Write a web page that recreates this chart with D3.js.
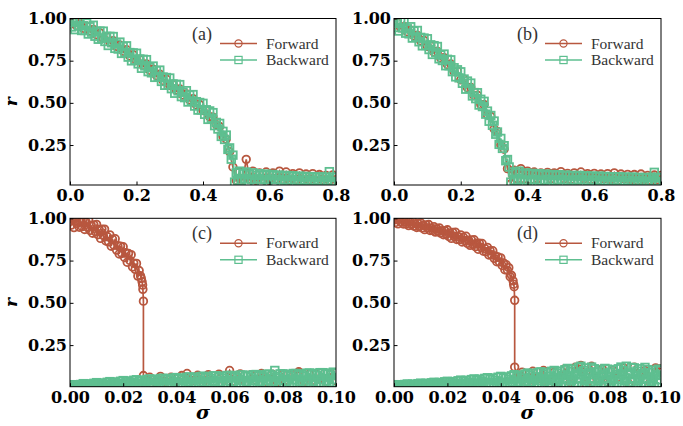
<!DOCTYPE html>
<html><head><meta charset="utf-8">
<script src="https://cdn.jsdelivr.net/npm/d3@7"></script>
<style>body{margin:0;background:#fff}</style>
</head><body><svg id="c" width="683" height="426"></svg>
<script>
// ---------- data ----------
const sigAB = [0,0.01,0.02,0.03,0.04,0.05,0.06,0.07,0.08,0.09,0.1,0.11,0.12,0.13,0.14,0.15,0.16,0.17,0.18,0.19,0.2,0.21,0.22,0.23,0.24,0.25,0.26,0.27,0.28,0.29,0.3,0.31,0.32,0.33,0.34,0.35,0.36,0.37,0.38,0.39,0.4,0.41,0.42,0.43,0.44,0.45,0.46,0.47,0.48,0.49,0.5,0.51,0.52,0.53,0.54,0.55,0.56,0.57,0.58,0.59,0.6,0.61,0.62,0.63,0.64,0.65,0.66,0.67,0.68,0.69,0.7,0.71,0.72,0.73,0.74,0.75,0.76,0.77,0.78,0.79,0.8];
const sigAB2 = [0,0.005,0.01,0.015,0.02,0.025,0.03,0.035,0.04,0.045,
 0.05,0.055,0.06,0.065,0.07,0.075,0.08,0.085,0.09,0.095,
 0.1,0.105,0.11,0.115,0.12,0.125,0.13,0.135,0.14,0.145,
 0.15,0.155,0.16,0.165,0.17,0.175,0.18,0.185,0.19,0.195,
 0.2,0.205,0.21,0.215,0.22,0.225,0.23,0.235,0.24,0.245,
 0.25,0.255,0.26,0.265,0.27,0.275,0.28,0.285,0.29,0.295,
 0.3,0.305,0.31,0.315,0.32,0.325,0.33,0.335,0.34,0.345,
 0.35,0.355,0.36,0.365,0.37,0.375,0.38,0.385,0.39,0.395,
 0.4,0.405,0.41,0.415,0.42,0.425,0.43,0.435,0.44,0.445,
 0.45,0.455,0.46,0.465,0.47,0.475,0.48,0.485,0.49,0.495,
 0.5,0.505,0.51,0.515,0.52,0.525,0.53,0.535,0.54,0.545,
 0.55,0.555,0.56,0.565,0.57,0.575,0.58,0.585,0.59,0.595,
 0.6,0.605,0.61,0.615,0.62,0.625,0.63,0.635,0.64,0.645,
 0.65,0.655,0.66,0.665,0.67,0.675,0.68,0.685,0.69,0.695,
 0.7,0.705,0.71,0.715,0.72,0.725,0.73,0.735,0.74,0.745,
 0.75,0.755,0.76,0.765,0.77,0.775,0.78,0.785,0.79,0.795,
 0.8];
const aFwd = [0.965,0.98,0.958,0.97,0.942,0.955,0.925,0.935,0.905,0.915,
 0.882,0.892,0.86,0.868,0.835,0.842,0.806,0.815,0.778,0.786,
 0.75,0.758,0.722,0.73,0.693,0.7,0.662,0.67,0.632,0.64,
 0.603,0.61,0.575,0.582,0.546,0.553,0.518,0.525,0.487,0.49,
 0.455,0.455,0.418,0.415,0.37,0.36,0.3,0.285,0.21,0.12,
 0.04,0.09,0.045,0.165,0.05,0.095,0.04,0.085,0.045,0.09,
 0.04,0.085,0.05,0.095,0.045,0.09,0.04,0.08,0.045,0.085,
 0.04,0.078,0.045,0.08,0.04,0.075,0.045,0.07,0.04,0.072,
 0.045];
const aBwd = [1.007,0.95,0.984,0.934,0.991,0.956,0.996,0.929,0.957,0.929,
 0.973,0.908,0.951,0.919,0.96,0.895,0.924,0.877,0.925,0.883,
 0.925,0.864,0.894,0.84,0.894,0.856,0.893,0.823,0.849,0.819,
 0.86,0.793,0.834,0.799,0.838,0.771,0.798,0.749,0.796,0.753,
 0.794,0.731,0.76,0.705,0.758,0.719,0.756,0.685,0.709,0.678,
 0.718,0.651,0.691,0.656,0.694,0.627,0.653,0.604,0.65,0.607,
 0.647,0.584,0.612,0.557,0.61,0.571,0.608,0.537,0.562,0.531,
 0.572,0.505,0.546,0.511,0.549,0.481,0.507,0.457,0.502,0.458,
 0.497,0.432,0.459,0.402,0.452,0.409,0.442,0.365,0.384,0.345,
 0.378,0.301,0.331,0.283,0.309,0.224,0.233,0.166,0.19,0.03,
 0.085,0.04,0.095,0.035,0.08,0.05,0.09,0.03,0.075,0.045,
 0.085,0.03,0.07,0.05,0.08,0.028,0.072,0.045,0.078,0.03,
 0.07,0.048,0.075,0.028,0.068,0.045,0.072,0.03,0.066,0.042,
 0.07,0.025,0.065,0.045,0.068,0.03,0.062,0.04,0.066,0.025,
 0.06,0.042,0.064,0.028,0.06,0.04,0.063,0.025,0.058,0.04,
 0.062,0.028,0.058,0.038,0.06,0.03,0.092,0.035,0.058,0.03,
 0.06];
const bFwd = [0.962,0.975,0.945,0.952,0.922,0.93,0.897,0.9,0.866,0.87,
 0.835,0.838,0.8,0.805,0.765,0.768,0.727,0.73,0.685,0.688,
 0.637,0.64,0.59,0.592,0.543,0.545,0.49,0.49,0.43,0.42,
 0.345,0.33,0.25,0.225,0.11,0.02,0.1,0.05,0.11,0.05,
 0.095,0.045,0.09,0.05,0.085,0.04,0.088,0.05,0.085,0.04,
 0.092,0.05,0.082,0.045,0.085,0.04,0.09,0.05,0.08,0.045,
 0.082,0.04,0.078,0.05,0.08,0.045,0.085,0.04,0.078,0.05,
 0.076,0.045,0.075,0.04,0.078,0.045,0.07,0.04,0.072,0.045,
 0.07];
const bBwd = [1.007,0.947,0.979,0.926,0.982,0.944,0.983,0.913,0.939,0.909,
 0.951,0.884,0.926,0.891,0.929,0.862,0.888,0.838,0.884,0.84,
 0.88,0.816,0.844,0.787,0.839,0.798,0.834,0.761,0.784,0.751,
 0.789,0.72,0.758,0.72,0.755,0.685,0.708,0.654,0.696,0.648,
 0.684,0.616,0.641,0.581,0.629,0.585,0.617,0.541,0.561,0.525,
 0.56,0.487,0.521,0.478,0.509,0.433,0.451,0.391,0.425,0.367,
 0.392,0.314,0.327,0.254,0.289,0.23,0.246,0.157,0.164,0.12,
 0.03,0.09,0.04,0.085,0.035,0.095,0.045,0.08,0.03,0.085,
 0.04,0.078,0.03,0.082,0.045,0.075,0.028,0.08,0.04,0.072,
 0.03,0.078,0.045,0.07,0.025,0.075,0.04,0.07,0.03,0.074,
 0.045,0.068,0.028,0.072,0.04,0.068,0.025,0.07,0.042,0.066,
 0.03,0.07,0.045,0.064,0.025,0.068,0.04,0.065,0.028,0.066,
 0.042,0.062,0.025,0.066,0.04,0.062,0.03,0.064,0.038,0.06,
 0.025,0.062,0.04,0.06,0.028,0.062,0.038,0.058,0.025,0.06,
 0.04,0.058,0.028,0.06,0.036,0.057,0.025,0.058,0.038,0.056,
 0.028,0.058,0.035,0.056,0.025,0.058,0.088,0.035,0.056,0.028,
 0.058];
const sigCD2 = [0,0.0005,0.001,0.0015,0.002,0.0025,0.003,0.0035,0.004,0.0045,
 0.005,0.0055,0.006,0.0065,0.007,0.0075,0.008,0.0085,0.009,0.0095,
 0.01,0.0105,0.011,0.0115,0.012,0.0125,0.013,0.0135,0.014,0.0145,
 0.015,0.0155,0.016,0.0165,0.017,0.0175,0.018,0.0185,0.019,0.0195,
 0.02,0.0205,0.021,0.0215,0.022,0.0225,0.023,0.0235,0.024,0.0245,
 0.025,0.0255,0.026,0.0265,0.027,0.0275,0.028,0.0285,0.029,0.0295,
 0.03,0.0305,0.031,0.0315,0.032,0.0325,0.033,0.0335,0.034,0.0345,
 0.035,0.0355,0.036,0.0365,0.037,0.0375,0.038,0.0385,0.039,0.0395,
 0.04,0.0405,0.041,0.0415,0.042,0.0425,0.043,0.0435,0.044,0.0445,
 0.045,0.0455,0.046,0.0465,0.047,0.0475,0.048,0.0485,0.049,0.0495,
 0.05,0.0505,0.051,0.0515,0.052,0.0525,0.053,0.0535,0.054,0.0545,
 0.055,0.0555,0.056,0.0565,0.057,0.0575,0.058,0.0585,0.059,0.0595,
 0.06,0.0605,0.061,0.0615,0.062,0.0625,0.063,0.0635,0.064,0.0645,
 0.065,0.0655,0.066,0.0665,0.067,0.0675,0.068,0.0685,0.069,0.0695,
 0.07,0.0705,0.071,0.0715,0.072,0.0725,0.073,0.0735,0.074,0.0745,
 0.075,0.0755,0.076,0.0765,0.077,0.0775,0.078,0.0785,0.079,0.0795,
 0.08,0.0805,0.081,0.0815,0.082,0.0825,0.083,0.0835,0.084,0.0845,
 0.085,0.0855,0.086,0.0865,0.087,0.0875,0.088,0.0885,0.089,0.0895,
 0.09,0.0905,0.091,0.0915,0.092,0.0925,0.093,0.0935,0.094,0.0945,
 0.095,0.0955,0.096,0.0965,0.097,0.0975,0.098,0.0985,0.099,0.0995,
 0.1];
const cFwdSig = [0,0.0005,0.001,0.0015,0.002,0.0025,0.003,0.0035,0.004,0.0045,
 0.005,0.0055,0.006,0.0065,0.007,0.0075,0.008,0.0085,0.009,0.0095,
 0.01,0.0105,0.011,0.0115,0.012,0.0125,0.013,0.0135,0.014,0.0145,
 0.015,0.0155,0.016,0.0165,0.017,0.0175,0.018,0.0185,0.019,0.0195,
 0.02,0.0205,0.021,0.0215,0.022,0.0225,0.023,0.0235,0.024,0.0245,
 0.025,0.0255,0.026,
 0.0265,0.0268,0.0271,0.0273,0.0274,0.0276,0.0276,
 0.028,0.03,0.032,0.034,0.036,0.038,0.04,0.042,0.044,0.046,0.048,
 0.05,0.052,0.054,0.056,0.058,0.06,0.062,0.064,0.066,0.068,
 0.07,0.072,0.074,0.076,0.078,0.08,0.082,0.084,0.086,0.088,
 0.09,0.092,0.094,0.096,0.098,0.1];
const cFwd = [1.01,0.96,0.995,0.945,1.004,0.97,1.012,0.947,0.977,0.951,
 0.996,0.934,0.979,0.948,0.991,0.928,0.958,0.912,0.961,0.921,
 0.964,0.903,0.934,0.881,0.936,0.898,0.936,0.866,0.892,0.861,
 0.902,0.835,0.876,0.841,0.879,0.812,0.838,0.789,0.835,0.792,
 0.832,0.768,0.796,0.74,0.792,0.751,0.785,0.712,0.734,0.698,
 0.733,0.658,0.691,
 0.66,0.645,0.625,0.605,0.58,0.51,0.07,
 0.04,0.06,0.03,0.065,0.035,0.06,0.03,0.07,0.082,0.04,0.072,
 0.03,0.075,0.035,0.078,0.04,0.1,0.035,0.08,0.03,0.075,
 0.04,0.082,0.035,0.078,0.03,0.08,0.04,0.075,0.092,0.035,
 0.078,0.04,0.085,0.035,0.08,0.04];
const cBwd = [0.016,0.011,0.013,0.01,0.015,0.012,0.014,0.011,0.017,0.012,
 0.022,0.012,0.018,0.014,0.021,0.011,0.016,0.013,0.024,0.015,
 0.028,0.013,0.022,0.016,0.026,0.012,0.019,0.014,0.03,0.017,
 0.034,0.014,0.027,0.018,0.032,0.012,0.023,0.016,0.036,0.02,
 0.04,0.015,0.033,0.02,0.038,0.012,0.028,0.017,0.042,0.022,
 0.045,0.014,0.038,0.022,0.043,0.012,0.033,0.018,0.047,0.025,
 0.05,0.015,0.043,0.024,0.048,0.012,0.038,0.019,0.052,0.027,
 0.054,0.015,0.047,0.025,0.052,0.012,0.042,0.02,0.056,0.03,
 0.058,0.016,0.05,0.026,0.056,0.012,0.045,0.022,0.06,0.032,
 0.062,0.016,0.054,0.028,0.06,0.012,0.048,0.022,0.064,0.034,
 0.066,0.017,0.058,0.03,0.064,0.013,0.052,0.024,0.068,0.036,
 0.068,0.017,0.06,0.03,0.066,0.013,0.054,0.024,0.07,0.038,
 0.071,0.018,0.063,0.032,0.069,0.013,0.057,0.025,0.073,0.04,
 0.073,0.018,0.065,0.032,0.071,0.013,0.059,0.025,0.075,0.04,
 0.076,0.019,0.068,0.034,0.074,0.014,0.062,0.026,0.078,0.042,
 0.078,0.019,0.07,0.034,0.1,0.014,0.064,0.026,0.08,0.042,
 0.08,0.02,0.072,0.035,0.078,0.014,0.066,0.027,0.082,0.044,
 0.082,0.02,0.074,0.035,0.08,0.015,0.068,0.028,0.084,0.044,
 0.085,0.021,0.077,0.036,0.083,0.015,0.071,0.028,0.087,0.046,
 0.087,0.021,0.079,0.037,0.085,0.015,0.073,0.029,0.09,0.046,
 0.085];
const dFwdSig = [0,0.0005,0.001,0.0015,0.002,0.0025,0.003,0.0035,0.004,0.0045,
 0.005,0.0055,0.006,0.0065,0.007,0.0075,0.008,0.0085,0.009,0.0095,
 0.01,0.0105,0.011,0.0115,0.012,0.0125,0.013,0.0135,0.014,0.0145,
 0.015,0.0155,0.016,0.0165,0.017,0.0175,0.018,0.0185,0.019,0.0195,
 0.02,0.0205,0.021,0.0215,0.022,0.0225,0.023,0.0235,0.024,0.0245,
 0.025,0.0255,0.026,0.0265,0.027,0.0275,0.028,0.0285,0.029,0.0295,
 0.03,0.0305,0.031,0.0315,0.032,0.0325,0.033,0.0335,0.034,0.0345,
 0.035,0.0355,0.036,0.0365,0.037,0.0375,0.038,0.0385,0.039,0.0395,
 0.04,0.0405,0.041,0.0415,0.042,0.0425,0.043,0.0435,0.044,
 0.0446,0.0448,0.045,0.0452,0.0452,
 0.046,0.048,0.05,0.052,0.054,0.056,0.058,0.06,0.062,0.064,
 0.066,0.068,0.07,0.072,0.074,0.076,0.078,0.08,0.082,0.084,
 0.086,0.088,0.09,0.092,0.094,0.096,0.098,0.1];
const dFwd = [1.004,0.975,0.992,0.967,0.996,0.979,1.0,0.966,0.981,0.967,
 0.989,0.957,0.98,0.964,0.984,0.954,0.968,0.946,0.97,0.951,
 0.973,0.943,0.959,0.933,0.961,0.943,0.963,0.928,0.942,0.928,
 0.95,0.918,0.939,0.923,0.943,0.912,0.926,0.903,0.927,0.906,
 0.932,0.893,0.914,0.881,0.917,0.893,0.918,0.875,0.893,0.874,
 0.902,0.86,0.888,0.867,0.894,0.852,0.87,0.84,0.872,0.845,
 0.873,0.832,0.852,0.817,0.852,0.827,0.851,0.805,0.822,0.802,
 0.828,0.783,0.808,0.784,0.808,0.763,0.777,0.743,0.771,0.742,
 0.766,0.721,0.736,0.696,0.726,0.693,0.708,0.655,0.663,
 0.63,0.61,0.595,0.515,0.12,
 0.06,0.09,0.03,0.095,0.05,0.1,0.02,0.09,0.045,0.11,
 0.03,0.12,0.13,0.015,0.125,0.05,0.11,0.03,0.1,0.06,
 0.115,0.02,0.12,0.05,0.1,0.03,0.115,0.11];
const dBwd = [0.016,0.011,0.013,0.01,0.015,0.012,0.014,0.011,0.017,0.012,
 0.02,0.012,0.017,0.013,0.019,0.011,0.015,0.013,0.022,0.014,
 0.025,0.012,0.02,0.015,0.024,0.011,0.018,0.014,0.027,0.016,
 0.03,0.013,0.024,0.017,0.029,0.012,0.021,0.015,0.033,0.018,
 0.036,0.014,0.029,0.019,0.034,0.012,0.025,0.016,0.039,0.021,
 0.043,0.015,0.035,0.021,0.041,0.012,0.03,0.018,0.046,0.024,
 0.05,0.016,0.042,0.023,0.048,0.012,0.036,0.019,0.053,0.027,
 0.057,0.016,0.048,0.025,0.055,0.012,0.041,0.02,0.06,0.03,
 0.065,0.017,0.055,0.028,0.062,0.012,0.047,0.022,0.068,0.033,
 0.075,0.01,0.064,0.03,0.072,0.005,0.055,0.022,0.078,0.036,
 0.085,0.008,0.072,0.032,0.082,0.004,0.062,0.024,0.088,0.04,
 0.092,0.01,0.078,0.034,0.088,0.004,0.066,0.025,0.095,0.042,
 0.1,0.01,0.085,0.036,0.096,0.003,0.072,0.026,0.104,0.045,
 0.112,0.012,0.094,0.04,0.108,0.004,0.08,0.028,0.118,0.05,
 0.125,0.012,0.1,0.04,0.115,0.003,0.085,0.03,0.12,0.05,
 0.11,0.01,0.092,0.038,0.105,0.004,0.078,0.028,0.112,0.046,
 0.108,0.012,0.09,0.038,0.104,0.004,0.076,0.028,0.11,0.046,
 0.12,0.012,0.1,0.04,0.125,0.003,0.085,0.03,0.118,0.05,
 0.115,0.01,0.096,0.038,0.11,0.004,0.08,0.028,0.118,0.048,
 0.105,0.012,0.088,0.036,0.1,0.004,0.074,0.026,0.108,0.045,
 0.1];
const xTicksAB = [0,0.2,0.4,0.6,0.8];
const xTicksCD = [0,0.02,0.04,0.06,0.08,0.1];
const yTicks = [0.25,0.5,0.75,1.0];
const seriesNames = ["Forward","Backward"];
const panelLabels = ["(a)","(b)","(c)","(d)"];

// ---------- styles / layout ----------
const colF = "#b8573f", colB = "#5ebf90";
const panels = [
 {x0:70,x1:336,y0:18.5,y1:185,xDom:[0,0.8],yDom:[0.013,1],xt:xTicksAB,fmt:".1f",fx:sigAB,fy:aFwd,bx:sigAB2,by:aBwd,ylab:true,xlab:false},
 {x0:394,x1:661,y0:18.5,y1:185,xDom:[0,0.8],yDom:[0.013,1],xt:xTicksAB,fmt:".1f",fx:sigAB,fy:bFwd,bx:sigAB2,by:bBwd,ylab:false,xlab:false},
 {x0:70,x1:336,y0:218.3,y1:386.7,xDom:[0,0.1],yDom:[0.004,1],xt:xTicksCD,fmt:".2f",fx:cFwdSig,fy:cFwd,bx:sigCD2,by:cBwd,ylab:true,xlab:true},
 {x0:394,x1:661,y0:218.3,y1:386.7,xDom:[0,0.1],yDom:[0.004,1],xt:xTicksCD,fmt:".2f",fx:dFwdSig,fy:dFwd,bx:sigCD2,by:dBwd,ylab:false,xlab:true}
];

const svg = d3.select("#c");
const defs = svg.append("defs");
const ms = 3.6, msPlot = 3.8;

panels.forEach((p,i)=>{
  const x = d3.scaleLinear().domain(p.xDom).range([p.x0,p.x1]);
  const y = d3.scaleLinear().domain(p.yDom).range([p.y1,p.y0]);
  const g = svg.append("g");
  defs.append("clipPath").attr("id","clip"+i).append("rect")
    .attr("x",p.x0).attr("y",p.y0).attr("width",p.x1-p.x0).attr("height",p.y1-p.y0);
  const plot = g.append("g").attr("clip-path",`url(#clip${i})`);
  const series = [
    {xs:p.fx, ys:p.fy, color:colF, shape:"circle"},
    {xs:p.bx, ys:p.by, color:colB, shape:"square"}];
  series.forEach(s=>{
    const pts = s.xs.map((v,k)=>[v,s.ys[k]]);
    plot.append("path").attr("d", d3.line().x(d=>x(d[0])).y(d=>y(d[1]))(pts))
      .attr("fill","none").attr("stroke",s.color).attr("stroke-width",1.7);
    if (s.shape==="circle") {
      plot.selectAll(null).data(pts).join("circle")
        .attr("cx",d=>x(d[0])).attr("cy",d=>y(d[1])).attr("r",msPlot)
        .attr("fill","none").attr("stroke",s.color).attr("stroke-width",1.8);
    } else {
      plot.selectAll(null).data(pts).join("rect")
        .attr("x",d=>x(d[0])-msPlot).attr("y",d=>y(d[1])-msPlot).attr("width",2*msPlot).attr("height",2*msPlot)
        .attr("fill","none").attr("stroke",s.color).attr("stroke-width",1.8);
    }
  });
  const xa = g.append("g").attr("transform",`translate(0,${p.y1})`)
    .call(d3.axisBottom(x).tickValues(p.xt).tickFormat(d3.format(p.fmt)).tickSize(-3.5).tickPadding(5));
  const ya = g.append("g").attr("transform",`translate(${p.x0},0)`)
    .call(d3.axisLeft(y).tickValues(yTicks).tickFormat(d3.format(".2f")).tickSize(-3.5).tickPadding(3));
  [xa,ya].forEach(a=>{
    a.select(".domain").remove();
    a.selectAll("line").attr("stroke","#000");
    a.selectAll("text").attr("font-family","DejaVu Serif").attr("font-weight","bold")
      .attr("font-size",16).attr("fill","#000");
  });
  g.append("rect").attr("x",p.x0).attr("y",p.y0).attr("width",p.x1-p.x0).attr("height",p.y1-p.y0)
    .attr("fill","none").attr("stroke","#000").attr("stroke-width",1);
  if (p.ylab) g.append("text").attr("transform",`translate(17,${(p.y0+p.y1)/2}) rotate(-90)`)
    .attr("text-anchor","middle").attr("font-family","DejaVu Serif").attr("font-weight","bold")
    .attr("font-style","italic").attr("font-size",17).text("r");
  if (p.xlab) g.append("text").attr("x",(p.x0+p.x1)/2).attr("y",419)
    .attr("text-anchor","middle").attr("font-family","DejaVu Serif").attr("font-weight","bold")
    .attr("font-style","italic").attr("font-size",19).text("σ");
  g.append("text").attr("x",p.x1-144).attr("y",p.y0+21).attr("font-family","Liberation Serif")
    .attr("font-size",18).attr("fill","#333").text(panelLabels[i]);
  series.forEach((s,k)=>{
    const ly = p.y0 + 25 + k*16.5;
    const lx0 = p.x1-116, lx1 = p.x1-79, mx = (lx0+lx1)/2;
    g.append("line").attr("x1",lx0).attr("x2",lx1).attr("y1",ly).attr("y2",ly)
      .attr("stroke",s.color).attr("stroke-width",1.5);
    if (s.shape==="circle") g.append("circle").attr("cx",mx).attr("cy",ly).attr("r",ms)
      .attr("fill","none").attr("stroke",s.color).attr("stroke-width",1.2);
    else g.append("rect").attr("x",mx-ms).attr("y",ly-ms).attr("width",2*ms).attr("height",2*ms)
      .attr("fill","none").attr("stroke",s.color).attr("stroke-width",1.2);
    g.append("text").attr("x",p.x1-70).attr("y",ly+5).attr("font-family","Liberation Serif")
      .attr("font-size",15.5).attr("fill","#333").text(seriesNames[k]);
  });
});
</script></body></html>
